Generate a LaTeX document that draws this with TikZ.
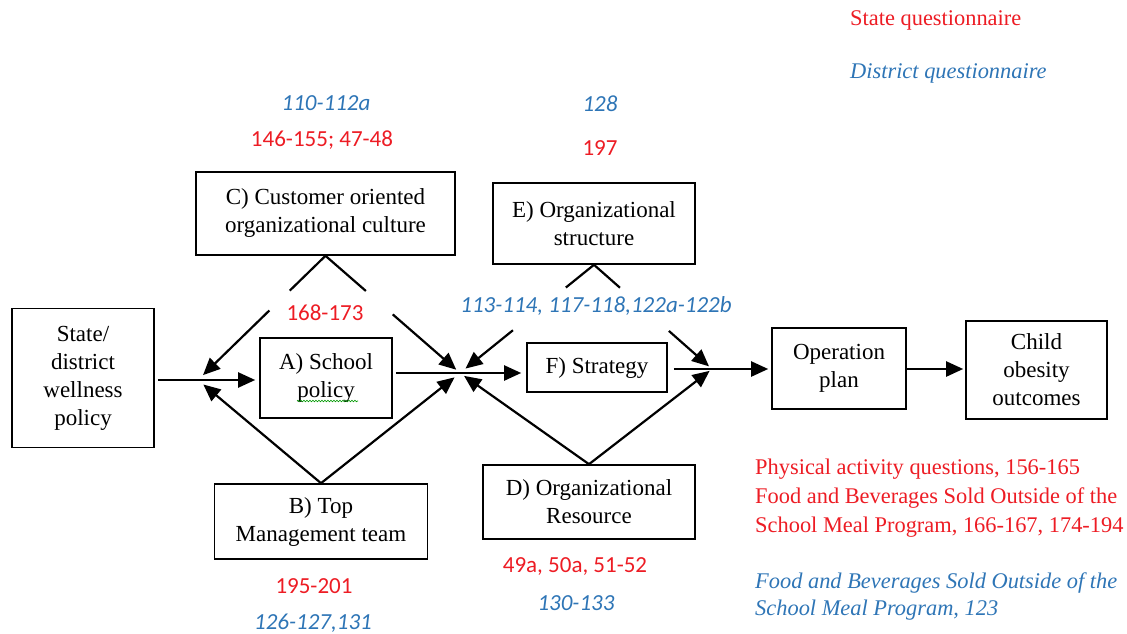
\documentclass[tikz,border=0pt]{standalone}
\usepackage{xcolor}
\usepackage{fontspec}
\setmainfont{Liberation Serif}
\newfontfamily\numfont{Carlito}
\usetikzlibrary{arrows.meta,calc,decorations.pathmorphing}

\definecolor{qred}{RGB}{237,28,36}
\definecolor{qblue}{RGB}{46,117,182}

\tikzset{
  box/.style={draw, rectangle, line width=1.6pt, align=center, inner sep=0pt,
    font=\fontsize{23}{28}\selectfont},
  link/.style={line width=2.2pt},
  arr/.style={line width=2.2pt, -{Triangle[length=17pt,width=15pt]}},
  statenum/.style={text=qred, font=\numfont\fontsize{23}{28}\selectfont},
  distnum/.style={text=qblue, font=\numfont\itshape\fontsize{23}{28}\selectfont},
  note/.style={anchor=west, align=left, inner sep=0pt, font=\fontsize{22.4}{29}\selectfont},
}

\begin{document}
\begin{tikzpicture}[x=1pt, y=-1pt]
            \useasboundingbox (0,0) rectangle (1127,634);

            % boxes
            \node[box, minimum width=142pt, minimum height=139pt] (policy) at (83,378) {State/\\district\\wellness\\policy};
            \node[box, minimum width=259pt, minimum height=83pt] (culture) at (325.5,213.5) {C) Customer oriented\\organizational culture};
            \node[box, minimum width=132pt, minimum height=80pt] (school) at (326,378) {A) School\\policy};
            \node[box, minimum width=213pt, minimum height=75pt] (topteam) at (321,521.5) {B) Top\\Management team};
            \node[box, minimum width=202pt, minimum height=81pt] (structure) at (594,223.5) {E) Organizational\\structure};
            \node[box, minimum width=140pt, minimum height=49pt] (strategy) at (597,367.5) {F) Strategy};
            \node[box, minimum width=212pt, minimum height=74pt] (resource) at (589,502) {D) Organizational\\Resource};
            \node[box, minimum width=134pt, minimum height=81pt] (opplan) at (839,368.5) {Operation\\plan};
            \node[box, minimum width=141pt, minimum height=98pt] (obesity) at (1036.5,370) {Child\\obesity\\outcomes};

            % spell-check underline
            \draw[green!60!black, line width=0.6pt, decorate,
                  decoration={snake, amplitude=0.8pt, segment length=3pt}] (297,401) -- (358,401);

            % junctions
            \coordinate (j1) at (198,380);
            \coordinate (j2) at (460,373);
            \coordinate (j3) at (712,369);

            % main flow
            \draw[arr, shorten <=3pt, shorten >=4pt] (policy.east |- j1) -- (school.west |- j1);
            \draw[arr, shorten <=3pt, shorten >=5pt] (school.east |- j2) -- (strategy.west |- j2);
            \draw[arr, shorten <=6pt, shorten >=3pt] (strategy.east |- j3) -- (opplan.west |- j3);
            \draw[arr, shorten >=2pt] (opplan.east |- j3) -- (obesity.west |- j3);

            % C) culture
            \draw[link] (culture.south) -- ($(culture.south)!0.28!(j1)$);
            \draw[arr, shorten >=7pt] ($(culture.south)!0.44!(j1)$) -- (j1);
            \draw[link] (culture.south) -- ($(culture.south)!0.30!(j2)$);
            \draw[arr, shorten >=5pt] ($(culture.south)!0.50!(j2)$) -- (j2);

            % E) structure
            \draw[link] (structure.south) -- ($(structure.south)!0.21!(j2)$);
            \draw[arr, shorten >=7pt] ($(structure.south)!0.605!(j2)$) -- (j2);
            \draw[link] (structure.south) -- ($(structure.south)!0.22!(j3)$);
            \draw[arr, shorten >=4pt] ($(structure.south)!0.635!(j3)$) -- (j3);

            % B) top team and D) resource
            \draw[arr, shorten >=7pt] (topteam.north) -- (j1);
            \draw[arr, shorten >=7pt] (topteam.north) -- (j2);
            \draw[arr, shorten >=5pt] (resource.north) -- (j2);
            \draw[arr, shorten >=3pt] (resource.north) -- (j3);

            % question numbers
            \node[distnum] (cDist) at (326,103) {110-112a};
            \node[statenum] (cState) at (322,140) {146-155; 47-48};
            \node[distnum] (eDist) at (600,104) {128};
            \node[statenum] (eState) at (600,148) {197};
            \node[statenum] (aState) at (325,313) {168-173};
            \node[distnum] (fDist) at (596,306) {113-114, 117-118,122a-122b};
            \node[statenum] (bState) at (314,586) {195-201};
            \node[distnum] (bDist) at (313,623) {126-127,131};
            \node[statenum] (dState) at (575,567) {49a, 50a, 51-52};
            \node[distnum] (dDist) at (576,603) {130-133};

            % key and notes
            \node[note, text=qred] (stateKey) at (850,20) {State questionnaire};
            \node[note, text=qblue, font=\itshape\fontsize{22.4}{29}\selectfont] (distKey) at (850,73) {District questionnaire};
            \node[note, text=qred] (stateNote) at (755,498) {Physical activity questions, 156-165\\Food and Beverages Sold Outside of the\\School Meal Program, 166-167, 174-194};
            \node[note, text=qblue, font=\itshape\fontsize{22.4}{27}\selectfont] (distNote) at (755,596.5) {Food and Beverages Sold Outside of the\\School Meal Program, 123};
        \end{tikzpicture}
\end{document}
